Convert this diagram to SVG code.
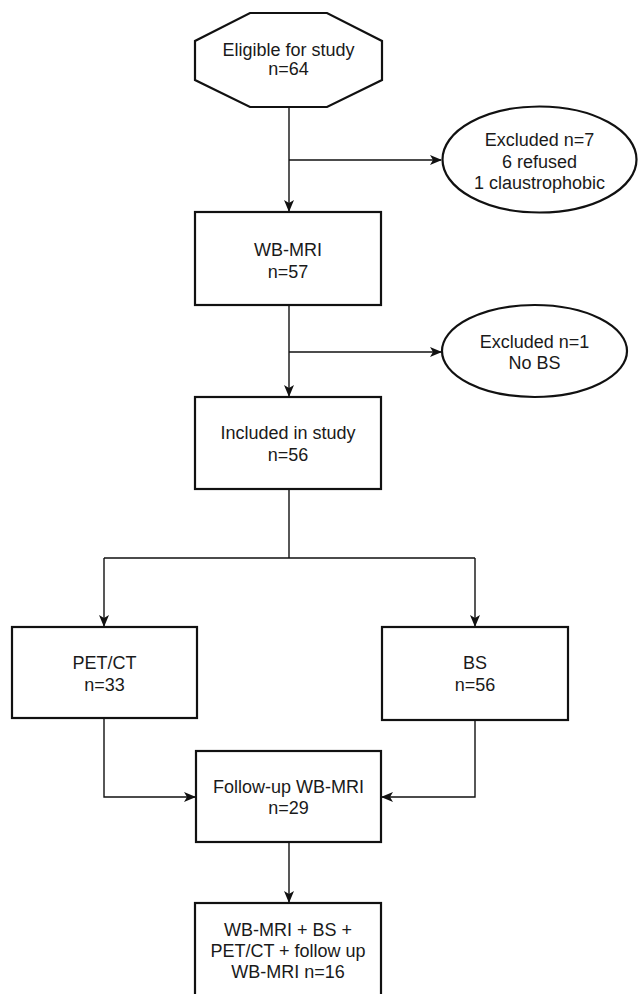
<svg xmlns="http://www.w3.org/2000/svg" width="638" height="994" viewBox="0 0 638 994">
<defs>
<style>
.n{fill:#fff;stroke:#111;stroke-width:2.2}
.t{font-family:"Liberation Sans",Arial,Helvetica,sans-serif;font-size:18px;fill:#1a1a1a;text-anchor:middle}
.c{fill:none;stroke:#111;stroke-width:1.4}
</style>
<marker id="ah" viewBox="0 0 12 10" refX="11" refY="5" markerWidth="12" markerHeight="10" markerUnits="userSpaceOnUse" orient="auto">
<path d="M0,0 L12,5 L0,10 L3,5 Z" fill="#111"/>
</marker>
</defs>
<rect width="638" height="994" fill="#fff"/>
<g id="connectors">
<path class="c" d="M289,107 V211" marker-end="url(#ah)"/>
<path class="c" d="M289,160 H441" marker-end="url(#ah)"/>
<path class="c" d="M289,305 V396" marker-end="url(#ah)"/>
<path class="c" d="M289,352 H441" marker-end="url(#ah)"/>
<path class="c" d="M289,489 V558 M104,558 H475"/>
<path class="c" d="M104,558 V626" marker-end="url(#ah)"/>
<path class="c" d="M475,558 V626" marker-end="url(#ah)"/>
<path class="c" d="M104,718 V797 H195" marker-end="url(#ah)"/>
<path class="c" d="M475,720 V797 H382" marker-end="url(#ah)"/>
<path class="c" d="M289,842 V902" marker-end="url(#ah)"/>
</g>
<g id="eligible">
<polygon class="n" points="250,13 327,13 382,41 382,80 327,107 250,107 195,80 195,41"/>
<text class="t" x="288.5" y="56">Eligible for study</text>
<text class="t" x="288.5" y="75">n=64</text>
</g>
<g id="excluded7">
<ellipse class="n" cx="539.5" cy="159.5" rx="97" ry="53"/>
<text class="t" x="539.5" y="146">Excluded n=7</text>
<text class="t" x="539.5" y="168">6 refused</text>
<text class="t" x="539.5" y="189">1 claustrophobic</text>
</g>
<g id="wbmri">
<rect class="n" x="195" y="212" width="186" height="93"/>
<text class="t" x="288" y="256">WB-MRI</text>
<text class="t" x="288" y="278">n=57</text>
</g>
<g id="excluded1">
<ellipse class="n" cx="534.5" cy="351" rx="92.5" ry="46"/>
<text class="t" x="534.5" y="348">Excluded n=1</text>
<text class="t" x="534.5" y="369">No BS</text>
</g>
<g id="included">
<rect class="n" x="195" y="397" width="186" height="92"/>
<text class="t" x="288" y="439">Included in study</text>
<text class="t" x="288" y="461">n=56</text>
</g>
<g id="petct">
<rect class="n" x="12" y="627" width="185" height="91"/>
<text class="t" x="104.5" y="669">PET/CT</text>
<text class="t" x="104.5" y="691">n=33</text>
</g>
<g id="bs">
<rect class="n" x="382" y="627" width="186" height="93"/>
<text class="t" x="475" y="669">BS</text>
<text class="t" x="475" y="691">n=56</text>
</g>
<g id="followup">
<rect class="n" x="196" y="751" width="185" height="91"/>
<text class="t" x="288.5" y="793">Follow-up WB-MRI</text>
<text class="t" x="288.5" y="814">n=29</text>
</g>
<g id="final">
<rect class="n" x="195" y="903" width="186" height="100"/>
<text class="t" x="288" y="936">WB-MRI + BS +</text>
<text class="t" x="288" y="957">PET/CT + follow up</text>
<text class="t" x="288" y="978">WB-MRI n=16</text>
</g>
</svg>
